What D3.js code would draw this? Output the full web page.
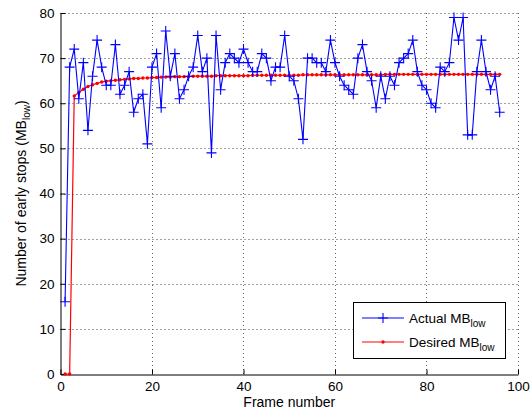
<!DOCTYPE html>
<html><head><meta charset="utf-8">
<script src="https://cdn.jsdelivr.net/npm/d3@7"></script>
<style>
body{margin:0;background:#fff}
text{font-family:"Liberation Sans",Arial,Helvetica,sans-serif;fill:#000}
</style>
</head><body>
<svg id="c" width="531" height="410"></svg>
<script>
const frames = [1,2,3,4,5,6,7,8,9,10,11,12,13,14,15,16,17,18,19,20,21,22,23,24,25,26,27,28,29,30,31,32,33,34,35,36,37,38,39,40,41,42,43,44,45,46,47,48,49,50,51,52,53,54,55,56,57,58,59,60,61,62,63,64,65,66,67,68,69,70,71,72,73,74,75,76,77,78,79,80,81,82,83,84,85,86,87,88,89,90,91,92,93,94,95,96];
const actual = [16,68,72,61,69,54,66,74,68,64,64,73,62,64,67,58,61,62,51,68,71,59,76,66,71,61,63,66,68,75,67,70,49,75,63,69,71,70,69,72,69,67,67,71,70,65,68,68,75,66,65,61,52,70,70,69,69,67,74,69,66,64,63,62,70,73,67,65,59,66,61,66,64,69,70,71,74,67,64,63,60,59,68,67,69,79,74,79,53,53,67,74,67,63,66,58];
const desired = [0,0,61.6,62.4,63.1,63.7,64.1,64.4,64.7,64.9,
65.0,65.1,65.2,65.3,65.4,65.5,65.5,65.6,65.6,65.7,
65.7,65.8,65.8,65.8,65.9,65.9,65.9,65.9,66.0,66.0,
66.0,66.0,66.0,66.1,66.1,66.1,66.1,66.1,66.1,66.1,
66.1,66.2,66.2,66.2,66.2,66.2,66.2,66.2,66.2,66.2,
66.2,66.2,66.3,66.3,66.3,66.3,66.3,66.3,66.3,66.3,
66.3,66.3,66.3,66.3,66.3,66.3,66.3,66.3,66.3,66.3,
66.4,66.4,66.4,66.4,66.4,66.4,66.4,66.4,66.4,66.4,
66.4,66.4,66.4,66.4,66.4,66.4,66.4,66.4,66.4,66.4,66.4,66.4,66.4,66.4,66.4,66.4];
const xTicks = [0,20,40,60,80,100];
const yTicks = [0,10,20,30,40,50,60,70,80];
const seriesNames = ["Actual MB", "Desired MB"];
const subText = "low";
const xLabel = "Frame number";
const yLabel = "Number of early stops (MB";

const svg = d3.select('#c');
const L = 60.5, R = 518, T = 13, B = 374;
const x = d3.scaleLinear().domain([0,100]).range([L, R]);
const y = d3.scaleLinear().domain([0,80]).range([B, T]);
const cy = v => Math.round(y(v)) + 0.5;
const cx = v => Math.round(x(v) - 0.5) + 0.5;

// grid
const grid = svg.append('g');
grid.selectAll('line.h').data(yTicks.filter(d => d > 0)).join('line')
  .attr('x1', L).attr('x2', R).attr('y1', cy).attr('y2', cy)
  .attr('stroke', '#444').attr('stroke-width', 1).attr('stroke-dasharray', '1,3');
grid.selectAll('line.v').data(xTicks.filter(d => d > 0)).join('line')
  .attr('y1', T).attr('y2', B).attr('x1', cx).attr('x2', cx)
  .attr('stroke', '#666').attr('stroke-width', 1).attr('stroke-dasharray', '1,3');

// axes
const fs = 13.5;
const yAxis = svg.append('g').attr('transform', `translate(${L},0)`)
  .call(d3.axisLeft(y).tickValues(yTicks).tickSize(-5).tickSizeOuter(0).tickPadding(6));
const xAxis = svg.append('g').attr('transform', `translate(0,${B + 0.5})`)
  .call(d3.axisBottom(x).tickValues(xTicks).tickSize(-5).tickSizeOuter(0).tickPadding(7));
[xAxis, yAxis].forEach(a => {
  a.selectAll('text').attr('font-size', fs).style('font-family', '"Liberation Sans",Arial,sans-serif').attr('fill', '#000');
  a.selectAll('line').attr('stroke', '#000');
  a.select('.domain').attr('stroke', '#000');
});

// data series
const pts = frames.map((f, i) => ({f, a: actual[i], d: desired[i]}));
const lineA = d3.line().x(p => x(p.f)).y(p => y(p.a));
const lineD = d3.line().x(p => x(p.f)).y(p => y(p.d));

svg.append('path').datum(pts).attr('d', lineD)
  .attr('fill', 'none').attr('stroke', '#ff0000').attr('stroke-width', 1.2);
svg.append('g').selectAll('circle').data(pts).join('circle')
  .attr('cx', p => x(p.f)).attr('cy', p => y(p.d)).attr('r', 1.7).attr('fill', '#ff0000');

svg.append('path').datum(pts).attr('d', lineA)
  .attr('fill', 'none').attr('stroke', '#0000ff').attr('stroke-width', 1.1);
const plus = (px, py, s) => `M${px - s},${py}H${px + s}M${px},${py - s}V${py + s}`;
svg.append('g').selectAll('path').data(pts).join('path')
  .attr('d', p => plus(x(p.f), y(p.a), 5))
  .attr('stroke', '#0000ff').attr('stroke-width', 1.1).attr('fill', 'none');

// axis labels
svg.append('text').attr('x', (L + R) / 2).attr('y', 407).attr('text-anchor', 'middle')
  .attr('font-size', 14).text(xLabel);
const yl = svg.append('text').attr('transform', `translate(26,${(T + B) / 2}) rotate(-90)`)
  .attr('text-anchor', 'middle').attr('font-size', 14);
yl.append('tspan').text(yLabel);
yl.append('tspan').attr('dy', 4).attr('font-size', 10).text(subText);
yl.append('tspan').attr('dy', -4).text(')');

// legend
const lg = svg.append('g');
lg.append('rect').attr('x', 353.5).attr('y', 302.5).attr('width', 152).attr('height', 56)
  .attr('fill', '#fff').attr('stroke', '#000').attr('stroke-width', 1);
const rows = [
  {name: seriesNames[0], color: '#0000ff', yy: 318, mk: 'plus'},
  {name: seriesNames[1], color: '#ff0000', yy: 342, mk: 'dot'}
];
rows.forEach(r => {
  lg.append('line').attr('x1', 362).attr('x2', 404).attr('y1', r.yy).attr('y2', r.yy)
    .attr('stroke', r.color).attr('stroke-width', 1.1);
  if (r.mk === 'plus') {
    lg.append('path').attr('d', plus(383, r.yy, 5)).attr('stroke', r.color).attr('stroke-width', 1.1);
  } else {
    lg.append('circle').attr('cx', 383).attr('cy', r.yy).attr('r', 1.7).attr('fill', r.color);
  }
  const t = lg.append('text').attr('x', 409).attr('y', r.yy + 5).attr('font-size', fs);
  t.append('tspan').text(r.name);
  t.append('tspan').attr('dy', 4).attr('font-size', 10).text(subText);
});
</script>
</body></html>
